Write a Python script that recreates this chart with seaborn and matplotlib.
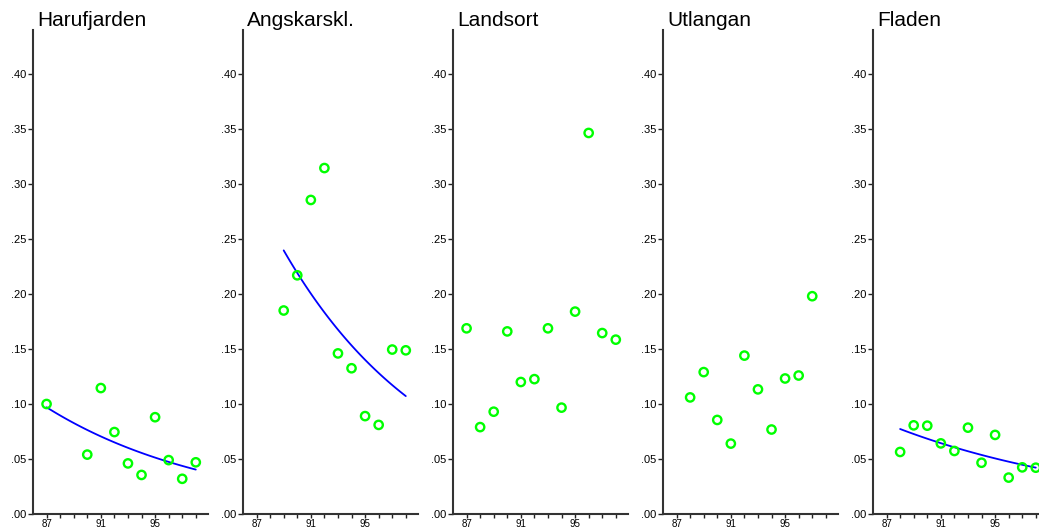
import numpy as np
import pandas as pd
import matplotlib
matplotlib.use('Agg')
import matplotlib.pyplot as plt
import seaborn as sns

# Estaciones y valores por año
stations = ['Harufjarden', 'Angskarskl.', 'Landsort', 'Utlangan', 'Fladen']

years_harufjarden = [87, 90, 91, 92, 93, 94, 95, 96, 97, 98]
vals_harufjarden = [0.100, 0.054, 0.1145, 0.0745, 0.046, 0.0355, 0.088, 0.049, 0.032, 0.047]

years_angskarskl = [89, 90, 91, 92, 93, 94, 95, 96, 97, 98]
vals_angskarskl = [0.185, 0.217, 0.2855, 0.3145, 0.146, 0.1325, 0.089, 0.081, 0.1495, 0.1488]

years_landsort = [87, 88, 89, 90, 91, 92, 93, 94, 95, 96, 97, 98]
vals_landsort = [0.1688, 0.079, 0.093, 0.166, 0.120, 0.1226, 0.1688, 0.0967, 0.184, 0.3464, 0.1645, 0.1585]

years_utlangan = [88, 89, 90, 91, 92, 93, 94, 95, 96, 97]
vals_utlangan = [0.106, 0.129, 0.0855, 0.064, 0.144, 0.1133, 0.0768, 0.1232, 0.1259, 0.198]

years_fladen = [88, 89, 90, 91, 92, 93, 94, 95, 96, 97, 98]
vals_fladen = [0.0564, 0.0806, 0.0803, 0.0642, 0.0573, 0.0785, 0.0466, 0.0719, 0.0331, 0.0424, 0.0421]

# Estaciones con curva de tendencia (ajuste exponencial)
with_trend = [True, True, False, False, True]

all_years = [years_harufjarden, years_angskarskl, years_landsort, years_utlangan, years_fladen]
all_vals = [vals_harufjarden, vals_angskarskl, vals_landsort, vals_utlangan, vals_fladen]

year_ticks = list(range(87, 99))
year_labels = ['87', '', '', '', '91', '', '', '', '95', '', '', '']
y_ticks = [0.00, 0.05, 0.10, 0.15, 0.20, 0.25, 0.30, 0.35, 0.40]
y_labels = ['.00', '.05', '.10', '.15', '.20', '.25', '.30', '.35', '.40']

sns.set_style('ticks')
plt.rcParams['font.family'] = ['Liberation Sans', 'DejaVu Sans']
plt.rcParams['text.color'] = 'black'
plt.rcParams['xtick.labelcolor'] = 'black'
plt.rcParams['ytick.labelcolor'] = 'black'

W, H = 1039, 529
fig = plt.figure(figsize=(W / 100, H / 100), dpi=100)

for i, name in enumerate(stations):
    left = (33 + 210 * i) / W
    ax = fig.add_axes([left, 15 / H, 175 / W, 484 / H])
    df = pd.DataFrame({'year': all_years[i], 'value': all_vals[i]})

    if with_trend[i]:
        # Ajuste log-lineal (exponencial) sobre los datos
        b, a = np.polyfit(df['year'], np.log(df['value']), 1)
        xs = np.linspace(df['year'].min(), df['year'].max(), 60)
        trend = pd.DataFrame({'year': xs, 'value': np.exp(a + b * xs)})
        sns.lineplot(data=trend, x='year', y='value', ax=ax, color='#0000ff', linewidth=1.3)

    sns.scatterplot(data=df, x='year', y='value', ax=ax, color='#00ff00',
                    facecolor='none', edgecolor='#00ff00', linewidth=1.7, s=36, zorder=3)

    ax.set_xlim(86.0, 98.9)
    ax.set_ylim(0, 0.44)
    ax.set_xticks(year_ticks)
    ax.set_xticklabels(year_labels)
    ax.set_yticks(y_ticks)
    ax.set_yticklabels(y_labels)
    ax.set_xlabel('')
    ax.set_ylabel('')
    ax.tick_params(axis='y', labelsize=8, length=3.5, width=1.0, pad=1, color='#222222')
    ax.tick_params(axis='x', labelsize=7, length=3, width=1.0, pad=0.5, color='#222222')
    sns.despine(ax=ax)
    for s in ['left', 'bottom']:
        ax.spines[s].set_linewidth(1.5)
        ax.spines[s].set_color('#333333')
    ax.text(0.025, 1.0 + 4 / 484, name, transform=ax.transAxes, fontsize=15,
            ha='left', va='baseline', color='black')

plt.savefig('out.png', dpi=100)
plt.close()
